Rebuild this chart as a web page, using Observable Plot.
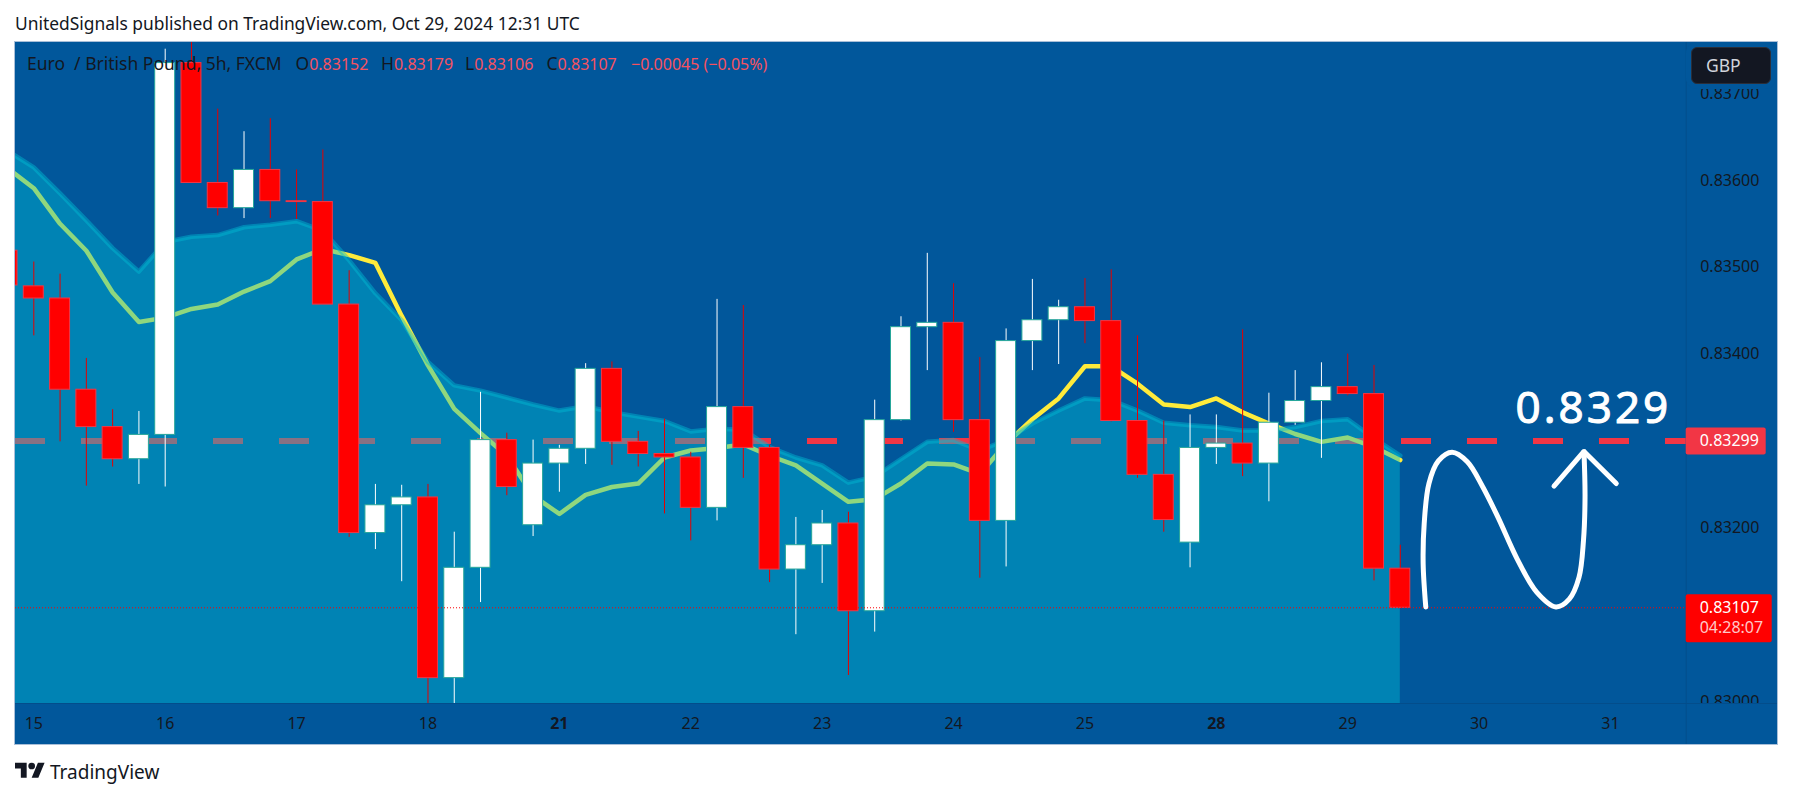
<!DOCTYPE html>
<html>
<head>
<meta charset="utf-8">
<script src="https://cdn.jsdelivr.net/npm/d3@7"></script>
<script src="https://cdn.jsdelivr.net/npm/@observablehq/plot@0.6"></script>
<style>
  body { margin: 0; background: #fff; width: 1793px; height: 798px; overflow: hidden; position: relative; font-family: "Noto Sans", sans-serif; color: #131722; }
  #titulo { position: absolute; left: 15px; top: 12px; font-size: 17.4px; line-height: 22px; white-space: pre; }
  #panel { position: absolute; left: 15px; top: 42px; width: 1762px; height: 702px; background: #01579B; box-shadow: 0 0 0 1px #a9bfd8; }
  #leyenda span { position: absolute; top: 52px; font-size: 17.5px; line-height: 22px; white-space: pre; }
  #leyenda b { font-weight: normal; font-size: 16px; color: #F7525F; }
  #moneda { position: absolute; left: 1691px; top: 47px; width: 80px; height: 37px; box-sizing: border-box; border: 1px solid #2a2e39; border-radius: 6px; background: #131722; color: #d1d4dc; font-size: 17.5px; line-height: 35px; padding-left: 14px; box-shadow: 0 0 0 5px #01579B; }
  #marca { position: absolute; left: 15px; top: 759px; }
  #marcaTexto { position: absolute; left: 50px; top: 759px; font-size: 19px; line-height: 26px; }
  .nota { letter-spacing: 3px; }
</style>
</head>
<body>
<div id="titulo">UnitedSignals published on TradingView.com, Oct 29, 2024 12:31 UTC</div>
<div id="panel"></div>
<div id="leyenda"></div>
<div id="moneda">GBP</div>
<svg id="marca" width="30" height="24" viewBox="0 0 36 28"><path fill="#131722" d="M14 22H7V11H0V4h14v18zM28 22h-8l7.5-18h8L28 22z"/><circle fill="#131722" cx="20" cy="8" r="4"/></svg>
<div id="marcaTexto">TradingView</div>
<script>
// velas de 5h, EUR/GBP
const opens = [0.83518,0.83477,0.83463,0.83358,0.83315,0.83278,0.83306,0.83734,0.83596,0.83567,0.83611,0.83575,0.83574,0.83456,0.83193,0.83225,0.83234,0.83026,0.83153,0.83300,0.83202,0.83273,0.83290,0.83382,0.83298,0.83284,0.83280,0.83222,0.83338,0.83291,0.83151,0.83179,0.83204,0.83103,0.83323,0.83430,0.83435,0.83323,0.83207,0.83414,0.83438,0.83453,0.83437,0.83322,0.83260,0.83182,0.83291,0.83296,0.83273,0.83320,0.83345,0.83361,0.83353,0.83152]
const highs = [0.83530,0.83505,0.83491,0.83394,0.83335,0.83333,0.83750,0.83775,0.83681,0.83655,0.83670,0.83611,0.83634,0.83495,0.83249,0.83248,0.83249,0.83194,0.83355,0.83308,0.83300,0.83294,0.83388,0.83390,0.83310,0.83324,0.83286,0.83462,0.83455,0.83294,0.83211,0.83219,0.83217,0.83346,0.83442,0.83515,0.83480,0.83395,0.83428,0.83485,0.83461,0.83486,0.83496,0.83420,0.83322,0.83329,0.83329,0.83427,0.83354,0.83380,0.83389,0.83399,0.83386,0.83179]
const lows = [0.83461,0.83420,0.83298,0.83247,0.83269,0.83249,0.83246,0.83596,0.83558,0.83555,0.83555,0.83554,0.83456,0.83188,0.83174,0.83137,0.82985,0.82985,0.83113,0.83236,0.83189,0.83240,0.83272,0.83271,0.83269,0.83215,0.83184,0.83207,0.83256,0.83136,0.83076,0.83135,0.83029,0.83079,0.83322,0.83380,0.83309,0.83141,0.83154,0.83380,0.83387,0.83411,0.83321,0.83256,0.83194,0.83153,0.83272,0.83258,0.83229,0.83317,0.83279,0.83351,0.83138,0.83106]
const closes = [0.83478,0.83463,0.83358,0.83315,0.83278,0.83306,0.83734,0.83596,0.83567,0.83611,0.83575,0.83574,0.83456,0.83193,0.83225,0.83234,0.83026,0.83153,0.83300,0.83246,0.83273,0.83290,0.83382,0.83298,0.83284,0.83280,0.83222,0.83338,0.83291,0.83151,0.83179,0.83204,0.83103,0.83323,0.83430,0.83435,0.83323,0.83207,0.83414,0.83438,0.83453,0.83437,0.83322,0.83260,0.83208,0.83291,0.83296,0.83273,0.83320,0.83345,0.83361,0.83353,0.83152,0.83107]

// banda superior y media
const banda = [0.83633,0.83614,0.83584,0.83553,0.83521,0.83494,0.83528,0.83534,0.83536,0.83545,0.83548,0.83552,0.83541,0.83507,0.83469,0.83438,0.83390,0.83363,0.83357,0.83349,0.83341,0.83334,0.83339,0.83332,0.83327,0.83322,0.83310,0.83313,0.83312,0.83292,0.83280,0.83271,0.83251,0.83258,0.83278,0.83298,0.83300,0.83288,0.83300,0.83319,0.83334,0.83348,0.83346,0.83334,0.83320,0.83317,0.83315,0.83311,0.83311,0.83315,0.83322,0.83324,0.83302,0.83282]
const media = [0.83613,0.83590,0.83549,0.83518,0.83470,0.83436,0.83441,0.83451,0.83456,0.83471,0.83483,0.83508,0.83520,0.83513,0.83504,0.83443,0.83386,0.83336,0.83308,0.83282,0.83236,0.83215,0.83237,0.83246,0.83250,0.83280,0.83288,0.83291,0.83295,0.83282,0.83271,0.83250,0.83229,0.83232,0.83250,0.83273,0.83272,0.83261,0.83296,0.83324,0.83348,0.83385,0.83385,0.83365,0.83341,0.83338,0.83348,0.83332,0.83319,0.83307,0.83298,0.83303,0.83292,0.83277]

const precioLinea = 0.83299
const ultimo = 0.83107
const cuentaAtras = "04:28:07"

// eje
const dias = ["15","16","17","18","21","22","23","24","25","28","29","30","31"]
const diasIdx = [1,6,11,16,21,26,31,36,41,46,51,56,61]
const diasBold = ["21","28"]
const preciosEje = [0.837,0.836,0.835,0.834,0.832,0.830]

// dibujo a mano
const trazoX = [53.97,53.87,53.91,54.09,54.45,54.97,55.55,56.14,56.72,57.45,58.19,58.92,59.43,59.80,59.97,60.03,59.99]
const trazoY = [0.83108,0.83158,0.83204,0.83250,0.83276,0.83286,0.83275,0.83246,0.83211,0.83163,0.83125,0.83108,0.83117,0.83142,0.83184,0.83234,0.83287]
const flechaX = [58.85,59.99,61.22]
const flechaY = [0.83247,0.83287,0.83250]
const nota = "0.8329"
const notaX = 60.35
const notaY = 0.83336

const velas = opens.map((o, i) => ({i, o, h: highs[i], l: lows[i], c: closes[i], sube: closes[i] > o}))
const trazo = trazoX.map((x, k) => ({x, y: trazoY[k]}))
const flecha = flechaX.map((x, k) => ({x, y: flechaY[k]}))
const idx = banda.map((_, i) => i)
const piso = 0.829968
const anchoVela = 0.38
const fmt = d3.format(".5f")

const u = opens.length - 1
document.getElementById("leyenda").innerHTML = [
  [27, "Euro  / British Pound, 5h, FXCM"],
  [295.5, `O<b>${fmt(opens[u])}</b>`],
  [381, `H<b>${fmt(highs[u])}</b>`],
  [465, `L<b>${fmt(lows[u])}</b>`],
  [546.5, `C<b>${fmt(ultimo)}</b>`],
  [631, `<b>\u22120.00045 (\u22120.05%)</b>`]
].map(([left, t]) => `<span style="left:${left}px">${t}</span>`).join("")

// fondo del eje de tiempo, tapa la etiqueta 0.83000
const fondoEjes = (index, scales, values, dim) => {
  const g = d3.create("svg:g")
  const x0 = dim.width - dim.marginRight
  const y0 = dim.height - dim.marginBottom
  g.append("rect").attr("x", 0).attr("y", y0).attr("width", dim.width).attr("height", dim.marginBottom).attr("fill", "#01579B")
  g.append("line").attr("x1", 0).attr("x2", dim.width).attr("y1", y0 + 0.5).attr("y2", y0 + 0.5).attr("stroke", "#034d8b")
  g.append("line").attr("x1", x0 + 0.5).attr("x2", x0 + 0.5).attr("y1", 0).attr("y2", dim.height).attr("stroke", "#034d8b")
  return g.node()
}

// etiqueta de precio a la derecha
const etiqueta = (valor, color, ancho, arriba, abajo, textos) => (index, {y}, values, dim) => {
  const x0 = dim.width - dim.marginRight
  const g = d3.create("svg:g")
  g.append("rect").attr("x", x0).attr("y", y(valor) - arriba).attr("width", ancho).attr("height", arriba + abajo).attr("rx", 2).attr("fill", color)
  textos.forEach((t, k) => {
    g.append("text").attr("x", x0 + 14).attr("y", y(valor) + k * 20).attr("dy", "0.36em")
      .attr("text-anchor", "start").attr("font-size", 16).attr("fill", k ? "#ffc8c8" : "#fff").text(t)
  })
  return g.node()
}

const chart = Plot.plot({
  width: 1762,
  height: 702,
  marginTop: 0,
  marginLeft: 0,
  marginRight: 91.3,
  marginBottom: 41,
  style: {background: "transparent", fontFamily: "'Noto Sans', sans-serif", color: "#131722"},
  x: {domain: [0.3037, 63.88], axis: null},
  y: {domain: [piso, 0.837577], axis: null},
  marks: [
    Plot.axisY({anchor: "right", ticks: preciosEje, tickFormat: fmt, tickSize: 0, tickPadding: 14, dy: 1, label: null, fontSize: 16, color: "#131722"}),
    fondoEjes,
    Plot.ruleY([precioLinea], {stroke: "#F23645", strokeWidth: 6, strokeDasharray: "30,36", strokeDashoffset: 0}),
    Plot.line(idx, {x: d => d, y: d => media[d], stroke: "#FFEB3B", strokeWidth: 4.5, clip: true}),
    Plot.areaY(idx, {x: d => d, y1: piso, y2: d => banda[d], fill: "#00BCD4", fillOpacity: 0.44, clip: true}),
    Plot.line(idx, {x: d => d, y: d => banda[d], stroke: "#00BCD4", strokeOpacity: 0.44, strokeWidth: 4.5, clip: true}),
    Plot.ruleX(velas, {x: "i", y1: "l", y2: "h", stroke: d => d.sube ? "#ffffff" : "#e60000", strokeWidth: 1, clip: true}),
    Plot.rect(velas, {
      x1: d => d.i - anchoVela, x2: d => d.i + anchoVela,
      y1: "o", y2: "c",
      fill: d => d.sube ? "#ffffff" : "#ff0000",
      stroke: d => d.sube ? "#26A69A" : "#F23645",
      strokeWidth: 1, clip: true
    }),
    Plot.ruleY([ultimo], {stroke: "#ff0000", strokeWidth: 1, strokeDasharray: "1,2"}),
    Plot.line(trazo, {x: "x", y: "y", curve: "catmull-rom", stroke: "#fff", strokeWidth: 5, strokeLinecap: "round"}),
    Plot.line(flecha, {x: "x", y: "y", stroke: "#fff", strokeWidth: 5, strokeLinecap: "round", strokeLinejoin: "miter"}),
    Plot.text([nota], {x: notaX, y: notaY, text: d => d, fill: "#fff", stroke: "#fff", strokeWidth: 1, fontSize: 44, className: "nota"}),
    Plot.axisX({anchor: "bottom", ticks: diasIdx.filter((_, k) => !diasBold.includes(dias[k])), tickFormat: d => dias[diasIdx.indexOf(d)], tickSize: 0, tickPadding: 14, label: null, fontSize: 16, color: "#131722"}),
    Plot.axisX({anchor: "bottom", ticks: diasIdx.filter((_, k) => diasBold.includes(dias[k])), tickFormat: d => dias[diasIdx.indexOf(d)], tickSize: 0, tickPadding: 14, label: null, fontSize: 16, fontWeight: "bold", color: "#131722"}),
    etiqueta(precioLinea, "#F23645", 80, 13, 14, [fmt(precioLinea)]),
    etiqueta(ultimo, "#ff0000", 86, 13, 35, [fmt(ultimo), cuentaAtras])
  ]
})
document.getElementById("panel").append(chart)
</script>
</body>
</html>
